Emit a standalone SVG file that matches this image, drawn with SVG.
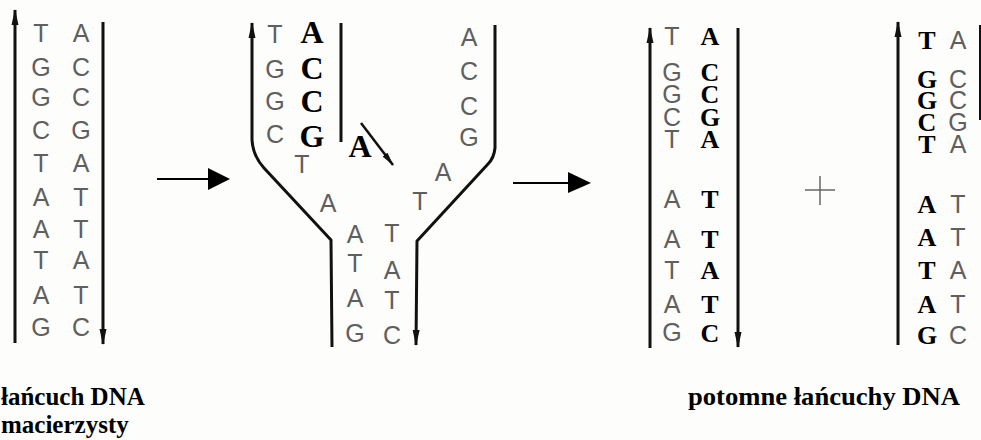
<svg xmlns="http://www.w3.org/2000/svg" width="981" height="440" viewBox="0 0 981 440">
<style>
.g{font-family:"Liberation Sans",Arial,sans-serif;font-size:25px;fill:#5f5f5f;text-anchor:middle}
.b{font-family:"Liberation Serif","Times New Roman",serif;font-weight:bold;font-size:26px;fill:#000;text-anchor:middle}
.bb{font-size:32px}
.s{fill:none;stroke:#111;stroke-width:3;stroke-linejoin:round}
.lab{font-family:"Liberation Serif","Times New Roman",serif;font-weight:bold;font-size:25px;fill:#000}
</style>
<defs>
<marker id="ah" viewBox="0 0 16 8" refX="15" refY="4" markerWidth="16" markerHeight="8" markerUnits="userSpaceOnUse" orient="auto">
<path d="M0,0.5 L16,4 L0,7.5 Z" fill="#111"/>
</marker>
<marker id="ah2" viewBox="0 0 16 8" refX="15" refY="4" markerWidth="14" markerHeight="7" markerUnits="userSpaceOnUse" orient="auto">
<path d="M0,0.5 L16,4 L0,7.5 Z" fill="#111"/>
</marker>
</defs>
<rect width="981" height="440" fill="#fdfdfb"/>

<g id="parent-strand">
<line class="s" x1="15" y1="343" x2="15" y2="10" marker-end="url(#ah)"/>
<line class="s" x1="103" y1="22" x2="103" y2="344" marker-end="url(#ah)"/>
<g class="g">
<text x="41" y="42">T</text><text x="81" y="42">A</text>
<text x="41" y="76">G</text><text x="81" y="76">C</text>
<text x="41" y="106">G</text><text x="81" y="106">C</text>
<text x="41" y="139">C</text><text x="81" y="139">G</text>
<text x="41" y="172">T</text><text x="81" y="172">A</text>
<text x="41" y="206">A</text><text x="81" y="206">T</text>
<text x="41" y="238">A</text><text x="81" y="238">T</text>
<text x="41" y="269">T</text><text x="81" y="269">A</text>
<text x="41" y="304">A</text><text x="81" y="304">T</text>
<text x="41" y="336">G</text><text x="81" y="336">C</text>
</g>
</g>

<g id="fork">
<path class="s" d="M332 347 L331 240 L264 168 Q253 156 252 140 L252 23" marker-end="url(#ah)"/>
<line class="s" x1="341" y1="23" x2="341" y2="142"/>
<path class="s" d="M495 25 L495 148 Q494 158 488 164 L417 241 L416 345" marker-end="url(#ah)"/>
<line x1="361" y1="123" x2="393" y2="165" stroke="#111" stroke-width="2.5" marker-end="url(#ah2)"/>
<g class="g">
<text x="275" y="43">T</text>
<text x="275" y="78">G</text>
<text x="275" y="110">G</text>
<text x="275" y="143">C</text>
<text x="302" y="173">T</text>
<text x="328" y="212">A</text>
<text x="443" y="181">A</text>
<text x="420" y="210">T</text>
<text x="469" y="46">A</text>
<text x="469" y="80">C</text>
<text x="469" y="115">C</text>
<text x="469" y="146">G</text>
<text x="355" y="243">A</text><text x="392" y="242">T</text>
<text x="355" y="272">T</text><text x="392" y="279">A</text>
<text x="355" y="307">A</text><text x="392" y="309">T</text>
<text x="355" y="342">G</text><text x="392" y="344">C</text>
</g>
<g class="b bb">
<text x="312" y="43">A</text>
<text x="312" y="79">C</text>
<text x="312" y="112">C</text>
<text x="312" y="147">G</text>
<text x="360" y="157">A</text>
</g>
</g>

<g id="daughter-1">
<line class="s" x1="650" y1="348" x2="650" y2="28" marker-end="url(#ah)"/>
<line class="s" x1="738" y1="28" x2="738" y2="347" marker-end="url(#ah)"/>
<g class="g">
<text x="672" y="45">T</text>
<text x="672" y="81">G</text>
<text x="672" y="103">G</text>
<text x="672" y="126">C</text>
<text x="672" y="148">T</text>
<text x="672" y="208">A</text>
<text x="672" y="248">A</text>
<text x="672" y="279">T</text>
<text x="672" y="313">A</text>
<text x="672" y="341">G</text>
</g>
<g class="b">
<text x="710" y="45">A</text>
<text x="710" y="81">C</text>
<text x="710" y="103">C</text>
<text x="710" y="126">G</text>
<text x="710" y="148">A</text>
<text x="710" y="208">T</text>
<text x="710" y="248">T</text>
<text x="710" y="279">A</text>
<text x="710" y="313">T</text>
<text x="710" y="342">C</text>
</g>
</g>

<g id="daughter-2">
<line class="s" x1="898" y1="345" x2="898" y2="22" marker-end="url(#ah)"/>
<line x1="980" y1="25" x2="980" y2="120" stroke="#111" stroke-width="2"/>
<g class="b">
<text x="927" y="49">T</text>
<text x="927" y="88">G</text>
<text x="927" y="109">G</text>
<text x="927" y="131">C</text>
<text x="927" y="153">T</text>
<text x="927" y="213">A</text>
<text x="927" y="246">A</text>
<text x="927" y="279">T</text>
<text x="927" y="313">A</text>
<text x="927" y="344">G</text>
</g>
<g class="g">
<text x="958" y="49">A</text>
<text x="958" y="88">C</text>
<text x="958" y="109">C</text>
<text x="958" y="131">G</text>
<text x="958" y="153">A</text>
<text x="958" y="213">T</text>
<text x="958" y="246">T</text>
<text x="958" y="279">A</text>
<text x="958" y="313">T</text>
<text x="958" y="344">C</text>
</g>
</g>

<g id="connectors">
<line x1="157" y1="179" x2="210" y2="179" stroke="#000" stroke-width="2"/>
<path d="M208 168 L230 179 L208 190 Z" fill="#000"/>
<line x1="513" y1="183" x2="570" y2="183" stroke="#000" stroke-width="2"/>
<path d="M568 172 L591 183 L568 193 Z" fill="#000"/>
</g>

<g id="plus">
<line x1="805" y1="190" x2="835" y2="190" stroke="#666" stroke-width="1.5"/>
<line x1="820" y1="176" x2="820" y2="205" stroke="#666" stroke-width="1.5"/>
</g>

<g id="labels">
<text class="lab" x="1" y="405">łańcuch DNA</text>
<text class="lab" x="1" y="433">macierzysty</text>
<text class="lab" x="688" y="405" textLength="272" lengthAdjust="spacingAndGlyphs">potomne łańcuchy DNA</text>
</g>
</svg>
